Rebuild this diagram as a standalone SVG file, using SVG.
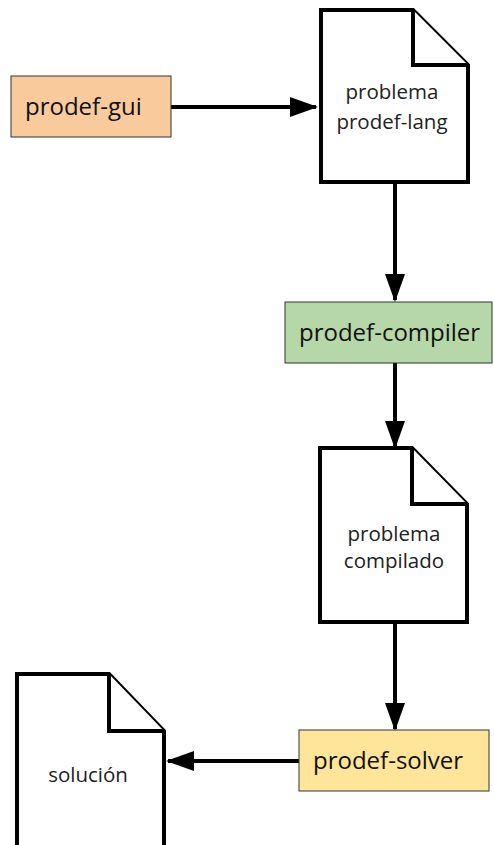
<svg xmlns="http://www.w3.org/2000/svg" width="494" height="845" viewBox="0 0 494 845">
<defs>
<style>
.doc{fill:#fff;stroke:#000;stroke-width:4;stroke-linejoin:miter}
.box{stroke:#333;stroke-width:1}
.big{font-family:"Open Sans","Liberation Sans",sans-serif;font-size:24px;fill:#111}
.small{font-family:"Open Sans","Liberation Sans",sans-serif;font-size:20.5px;fill:#222;text-anchor:middle}
.conn{stroke:#000;stroke-width:4;fill:none}
</style>
<marker id="ah" markerWidth="7" markerHeight="5" refX="6.5" refY="2.5" orient="auto" markerUnits="strokeWidth">
<path d="M0,0 L7,2.5 L0,5 Z" fill="#000"/>
</marker>
</defs>
<rect width="494" height="845" fill="#fff"/>
<g id="connectors">
<line class="conn" x1="171" y1="107" x2="316" y2="107" marker-end="url(#ah)"/>
<line class="conn" x1="395" y1="182" x2="395" y2="300" marker-end="url(#ah)"/>
<line class="conn" x1="395" y1="363" x2="395" y2="447" marker-end="url(#ah)"/>
<line class="conn" x1="395" y1="622" x2="395" y2="729" marker-end="url(#ah)"/>
<line class="conn" x1="299" y1="761" x2="168" y2="761" marker-end="url(#ah)"/>
</g>
<g id="gui">
<rect class="box" x="11" y="76" width="160" height="61" fill="#f9cb9c"/>
<text class="big" x="25" y="115">prodef-gui</text>
</g>
<g id="doc-lang">
<path class="doc" d="M321,10 H413 L468,65 V182 H321 Z"/>
<path class="doc" d="M413,10 V65 H468" fill="none"/>
<text class="small" x="392" y="99">problema</text>
<text class="small" x="392" y="129">prodef-lang</text>
</g>
<g id="compiler">
<rect class="box" x="285" y="302" width="207" height="61" fill="#b6d7a8"/>
<text class="big" x="299" y="341">prodef-compiler</text>
</g>
<g id="doc-compilado">
<path class="doc" d="M320,448 H412 L467,504 V622 H320 Z"/>
<path class="doc" d="M412,448 V504 H467" fill="none"/>
<text class="small" x="394" y="541">problema</text>
<text class="small" x="394" y="568">compilado</text>
</g>
<g id="solver">
<rect class="box" x="299" y="730" width="190" height="61" fill="#ffe599"/>
<text class="big" x="313" y="769">prodef-solver</text>
</g>
<g id="doc-solucion">
<path class="doc" d="M17,674 H109 L164,731 V850 H17 Z"/>
<path class="doc" d="M109,674 V731 H164" fill="none"/>
<text class="small" x="88" y="782">solución</text>
</g>
</svg>
